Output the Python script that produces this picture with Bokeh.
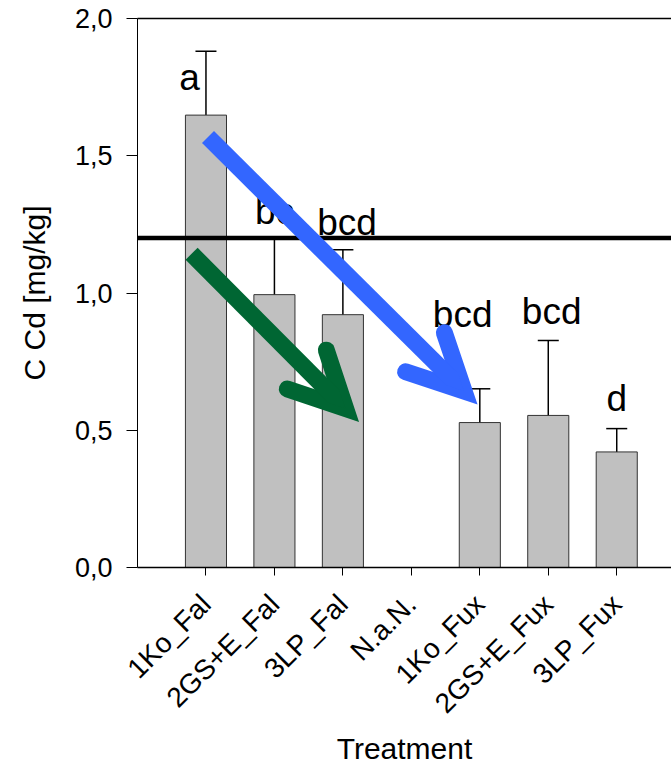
import math
from bokeh.plotting import figure
from bokeh.models import (ColumnDataSource, Whisker, TeeHead, Span, Arrow, OpenHead,
                          LinearAxis, FixedTicker, CustomJSTickFormatter, Range1d)
from bokeh.core.properties import value
from bokeh.embed import file_html
from bokeh.resources import INLINE

# ---- data ----
treatments = ["1Ko_Fal", "2GS+E_Fal", "3LP_Fal", "N.a.N.", "1Ko_Fux", "2GS+E_Fux", "3LP_Fux"]
cd_mean = [1.648, 0.994, 0.921, float("nan"), 0.528, 0.554, 0.421]
cd_err = [0.233, 0.211, 0.237, float("nan"), 0.123, 0.273, 0.085]
letters = ["a", "bc", "bcd", "", "bcd", "bcd", "d"]
letter_x = [-0.24, 1.0, 2.06, 3.0, 3.75, 5.05, 6.0]
letter_y = [1.737, 1.251, 1.211, 0.0, 0.876, 0.886, 0.57]
y_ticks = [0.0, 0.5, 1.0, 1.5, 2.0]
threshold = 1.2
# arrows: (x_start, y_start, x_end, y_end) in data units
arrow_blue = [0.03, 1.568, 3.77, 0.643]
arrow_green = [-0.21, 1.143, 2.04, 0.579]

FONT = "Liberation Sans"

idx = [i for i, m in enumerate(cd_mean) if not math.isnan(m)]
bars = ColumnDataSource(dict(
    x=idx,
    top=[cd_mean[i] for i in idx],
    upper=[cd_mean[i] + cd_err[i] for i in idx],
    lower=[cd_mean[i] - cd_err[i] for i in idx],
))
lab_idx = [i for i, t in enumerate(letters) if t]
labs = ColumnDataSource(dict(
    x=[letter_x[i] for i in lab_idx],
    y=[letter_y[i] for i in lab_idx],
    text=[letters[i] for i in lab_idx],
))

p = figure(width=671, height=767, output_backend="svg", toolbar_location=None,
           x_range=Range1d(-1, 6.8), y_range=Range1d(0, 2.0),
           min_border_left=137, min_border_right=0, min_border_top=18,
           min_border_bottom=200)
p.outline_line_color = None
p.xgrid.visible = False
p.ygrid.visible = False
p.background_fill_color = "white"
p.border_fill_color = "white"

p.vbar(x="x", top="top", width=0.6, source=bars, fill_color="#C0C0C0",
       line_color="#333333", line_width=1)

p.add_layout(Whisker(source=bars, base="x", upper="upper", lower="lower",
                     line_color="black", line_width=1.5,
                     upper_head=TeeHead(size=21, line_color="black", line_width=1.5),
                     lower_head=TeeHead(size=21, line_color="black", line_width=1.5)))

p.add_layout(Span(location=threshold, dimension="width", line_color="black", line_width=4.5))

p.text(x="x", y="y", text="text", source=labs, text_font=value(FONT),
       text_font_size="37px", text_align="center", text_baseline="alphabetic",
       y_offset=-13, text_color="black")

for coords, col in ((arrow_green, "#006633"), (arrow_blue, "#3366FF")):
    p.add_layout(Arrow(x_start=coords[0], y_start=coords[1], x_end=coords[2], y_end=coords[3],
                       line_color=col, line_width=17, line_cap="butt",
                       end=OpenHead(size=55, line_color=col, line_width=17,
                                    line_cap="round", line_join="miter")))

# x axis
xa = p.xaxis[0]
xa.ticker = FixedTicker(ticks=list(range(len(treatments))))
xa.formatter = CustomJSTickFormatter(args=dict(labels=treatments),
                                     code="return labels[Math.round(tick)] || '';")
xa.major_label_orientation = math.pi / 4
xa.major_label_text_font = FONT
xa.major_label_text_font_size = "28px"
xa.major_label_text_color = "black"
xa.major_label_standoff = 24
xa.major_tick_out = 8
xa.major_tick_in = 0
xa.minor_tick_line_color = None
xa.axis_line_color = "black"
xa.axis_line_width = 1.5
xa.major_tick_line_color = "black"
xa.major_tick_line_width = 1
xa.axis_label = "Treatment"
xa.axis_label_text_font = FONT
xa.axis_label_text_font_size = "30px"
xa.axis_label_text_font_style = "normal"
xa.axis_label_text_color = "black"
xa.axis_label_standoff = -1

# y axis
ya = p.yaxis[0]
ya.ticker = FixedTicker(ticks=y_ticks)
ya.formatter = CustomJSTickFormatter(code="return tick.toFixed(1).replace('.', ',');")
ya.major_label_text_font = FONT
ya.major_label_text_font_size = "27px"
ya.major_label_text_color = "black"
ya.major_label_standoff = 14
ya.major_tick_out = 11
ya.major_tick_in = 0
ya.minor_tick_line_color = None
ya.axis_line_color = "black"
ya.axis_line_width = 1
ya.major_tick_line_color = "black"
ya.axis_label = "C Cd [mg/kg]"
ya.axis_label_text_font = FONT
ya.axis_label_text_font_size = "30px"
ya.axis_label_text_font_style = "normal"
ya.axis_label_text_color = "black"
ya.axis_label_standoff = 21

# top frame line
top = LinearAxis(ticker=FixedTicker(ticks=[]), major_tick_line_color=None,
                 minor_tick_line_color=None, major_label_text_font_size="0px",
                 axis_line_color="black", axis_line_width=1.5,
                 major_label_standoff=0, major_tick_out=0, major_tick_in=0)
p.add_layout(top, "above")

open("out.html", "w").write(file_html(p, INLINE))
